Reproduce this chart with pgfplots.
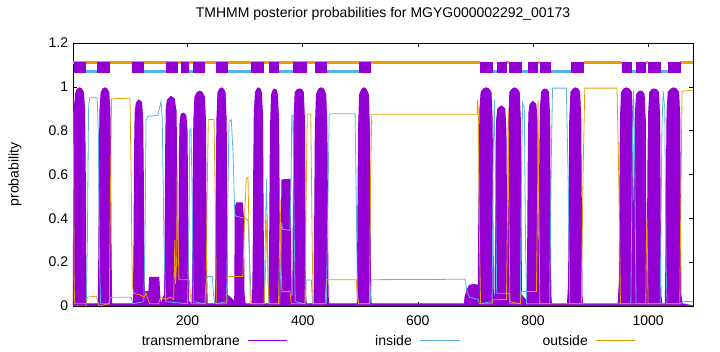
\documentclass[border=0pt]{standalone}
\usepackage{fontspec}
\setmainfont{Liberation Sans}
\usepackage{pgfplots}
\pgfplotsset{compat=1.18}
\definecolor{tm}{HTML}{9400D3}
\definecolor{inc}{HTML}{56B4E9}
\definecolor{outc}{HTML}{E69F00}
\begin{document}
\fontsize{14}{17}\selectfont
\begin{tikzpicture}[x=1pt,y=1pt]
\useasboundingbox (-73,-46) rectangle (647,306);
\begin{axis}[
  at={(0,0)}, anchor=south west,
  scale only axis, width=620pt, height=263pt,
  xmin=1, xmax=1078, ymin=0, ymax=1.2,
  xtick={200,400,600,800,1000},
  ytick={0,0.2,0.4,0.6,0.8,1,1.2},
  /pgf/number format/assume math mode=true,
  /pgf/number format/set thousands separator={},
  tick align=inside, major tick length=4pt,
  tick style={line width=0.6pt,black},
  axis line style={line width=0.8pt},
  ticklabel style={font=\fontsize{14}{17}\selectfont},
  xticklabel style={yshift=-5pt},
  unbounded coords=jump,
  title={TMHMM posterior probabilities for MGYG000002292\_00173},
  title style={at={(0.5,1)}, anchor=center, yshift=23pt, font=\fontsize{14}{17}\selectfont},
  ylabel={probability},
  ylabel style={at={(axis description cs:-0.0935,0.5)}, anchor=center, font=\fontsize{14}{17}\selectfont},
  clip=true,
]
% transmembrane (impulse-like fill)
\addplot[fill=tm, draw=tm, line width=1.1pt, line join=round] coordinates {
(1,0.02)(2,0.3)(3,0.75)(4,0.92)(6,0.975)(9,0.99)(12,0.995)(16,0.99)(19,0.975)(21,0.9)(22,0.7)(23,0.25)(24,0.01)
(45,0.01)(46,0.25)(47,0.7)(48,0.9)(50,0.975)(53,0.99)(56,0.995)(60,0.99)(63,0.975)(65,0.9)(66,0.7)(67,0.25)(68,0.01)
(106,0.01)(107,0.25)(108,0.7)(109,0.88)(111,0.925)(115,0.94)(120,0.93)(122,0.85)(123,0.6)(124,0.2)(125,0.065)(133,0.065)(134,0.13)(150,0.13)(152,0.03)(155,0.01)(158,0.04)
(160,0.05)(161,0.25)(162,0.7)(163,0.9)(165,0.94)(171,0.956)(177,0.945)(179,0.9)(180,0.895)(181,0.6)(182,0.3)(183,0.15)(184,0.15)(185,0.3)
(186,0.7)(187,0.84)(189,0.875)(193,0.88)(197,0.87)(199,0.8)(200,0.5)(201,0.15)(202,0.02)
(208,0.01)(209,0.2)(210,0.6)(211,0.85)(213,0.955)(217,0.975)(221,0.98)(225,0.975)(229,0.955)(231,0.85)(232,0.5)(233,0.15)(234,0.01)
(248,0.01)(249,0.1)(250,0.5)(251,0.85)(253,0.975)(256,0.99)(259,0.995)(262,0.99)(265,0.975)(267,0.85)(268,0.4)(269,0.05)(282,0.02)(283,0.45)(285,0.47)(295,0.47)(297,0.4)(298,0.05)(300,0.01)
(313,0.01)(314,0.2)(315,0.6)(316,0.88)(318,0.975)(321,0.99)(323,0.995)(326,0.99)(328,0.975)(330,0.88)(331,0.5)(332,0.1)(333,0.01)
(342,0.01)(343,0.4)(344,0.8)(346,0.965)(349,0.985)(351,0.99)(354,0.985)(356,0.965)(358,0.85)(359,0.5)(360,0.1)(362,0.02)(363,0.3)(364,0.575)(378,0.578)(379,0.3)(380,0.02)
(383,0.05)(384,0.5)(385,0.85)(387,0.975)(391,0.988)(394,0.99)(398,0.988)(401,0.975)(403,0.85)(404,0.4)(405,0.05)(406,0.01)
(420,0.01)(421,0.4)(422,0.8)(424,0.965)(428,0.99)(432,0.995)(436,0.99)(440,0.965)(442,0.8)(443,0.4)(444,0.05)(445,0.01)
(495,0.01)(496,0.4)(497,0.8)(499,0.965)(503,0.99)(506,0.995)(510,0.99)(514,0.965)(516,0.8)(517,0.4)(518,0.05)(519,0.01)
(681,0.01)(682,0.04)(685,0.07)(690,0.095)(700,0.098)(705,0.09)(706,0.4)
(707,0.7)(708,0.9)(710,0.975)(714,0.99)(719,0.995)(723,0.99)(727,0.975)(729,0.85)(730,0.4)(731,0.05)(734,0.02)(735,0.3)
(736,0.7)(737,0.85)(739,0.9)(745,0.913)(751,0.9)(753,0.8)(754,0.4)(755,0.1)(756,0.1)(757,0.5)
(758,0.85)(760,0.975)(764,0.99)(768,0.995)(772,0.99)(776,0.975)(778,0.85)(779,0.4)(780,0.05)(790,0.02)(791,0.3)
(792,0.7)(793,0.88)(795,0.92)(800,0.933)(805,0.92)(807,0.85)(808,0.5)(809,0.2)(811,0.3)
(812,0.7)(813,0.9)(815,0.975)(818,0.987)(821,0.99)(824,0.987)(827,0.975)(829,0.85)(830,0.4)(831,0.05)(832,0.01)
(860,0.01)(862,0.1)(863,0.5)(864,0.85)(866,0.975)(870,0.99)(874,0.995)(878,0.99)(881,0.975)(883,0.85)(884,0.4)(885,0.05)(886,0.01)
(948,0.01)(950,0.1)(951,0.5)(952,0.85)(954,0.975)(958,0.99)(962,0.995)(967,0.99)(971,0.975)(973,0.85)(974,0.4)(975,0.1)(976,0.3)
(977,0.7)(978,0.88)(980,0.965)(984,0.978)(987,0.98)(990,0.978)(993,0.965)(995,0.85)(996,0.4)(997,0.1)(999,0.3)
(1000,0.7)(1001,0.88)(1003,0.975)(1007,0.988)(1010,0.99)(1014,0.988)(1018,0.975)(1020,0.85)(1021,0.4)(1022,0.05)(1024,0.01)
(1030,0.01)(1031,0.2)(1032,0.6)(1033,0.88)(1035,0.975)(1040,0.99)(1044,0.995)(1049,0.99)(1053,0.975)(1055,0.85)(1056,0.4)(1057,0.05)(1059,0.01)(1078,0.0)
} \closedcycle;
% inside
\addplot[inc, line width=0.8pt] coordinates {
(1,0.0)(24,0.0)(26,0.3)(28,0.9)(30,0.95)(43,0.95)(45,0.8)(47,0.2)(49,0.01)
(63,0.01)(66,0.04)(102,0.04)(105,0.01)
(124,0.02)(126,0.3)(128,0.85)(131,0.865)(148,0.87)(151,0.9)(154,0.935)(156,0.85)(159,0.3)(162,0.02)
(200,0.01)(202,0.3)(204,0.8)(206,0.81)(208,0.5)(210,0.02)
(230,0.01)(232,0.1)(234,0.134)(243,0.134)(245,0.05)(248,0.01)
(268,0.02)(270,0.5)(272,0.84)(276,0.85)(279,0.7)(282,0.42)(284,0.41)(300,0.40)(305,0.39)(308,0.2)(311,0.01)
(333,0.01)(335,0.3)(337,0.58)(339,0.3)(341,0.01)
(360,0.01)(362,0.2)(363,0.38)(365,0.35)(378,0.345)(380,0.6)(381,0.87)(383,0.87)(385,0.4)(387,0.02)
(404,0.01)(406,0.119)(415,0.119)(417,0.01)
(441,0.01)(444,0.5)(446,0.87)(448,0.877)(491,0.877)(493,0.5)(495,0.05)(497,0.01)
(517,0.01)(519,0.12)(682,0.122)(686,0.06)(690,0.04)(705,0.03)(707,0.01)
(729,0.02)(731,0.7)(733,0.94)(735,0.5)(737,0.058)(758,0.058)(760,0.01)
(778,0.01)(780,0.6)(782,0.925)(785,0.9)(787,0.3)(789,0.01)
(829,0.01)(832,0.7)(834,0.994)(858,0.994)(861,0.6)(864,0.01)
(970,0.01)(973,0.8)(975,0.99)(977,0.6)(979,0.01)
(1021,0.01)(1024,0.8)(1026,0.98)(1029,0.9)(1031,0.2)(1033,0.01)
(1056,0.01)(1060,0.02)(1078,0.02)
};
% outside
\addplot[outc, line width=0.8pt] coordinates {
(1,0.95)(2,0.6)(3,0.1)(4,0.01)(24,0.01)(26,0.04)(42,0.045)(44,0.02)(46,0.0)
(64,0.01)(66,0.5)(68,0.945)(100,0.948)(102,0.6)(104,0.1)(106,0.058)(118,0.05)(125,0.04)(128,0.06)(130,0.04)(134,0.01)(150,0.01)(153,0.04)
(162,0.03)(170,0.04)(176,0.03)(177,0.2)(178,0.3)(179,0.1)(181,0.2)(182,0.63)(183,0.4)(185,0.12)(203,0.12)(205,0.05)(207,0.01)
(232,0.01)(234,0.5)(236,0.85)(246,0.852)(248,0.5)(250,0.01)
(268,0.01)(270,0.134)(296,0.135)(299,0.4)(302,0.58)(305,0.588)(307,0.3)(309,0.01)
(333,0.01)(336,0.2)(338,0.41)(340,0.1)(342,0.01)
(358,0.01)(360,0.3)(361,0.484)(362,0.2)(364,0.066)(378,0.066)(380,0.01)
(404,0.01)(406,0.5)(408,0.876)(414,0.876)(416,0.4)(418,0.01)
(439,0.01)(441,0.12)(493,0.12)(495,0.05)(497,0.01)
(516,0.01)(518,0.6)(520,0.875)(703,0.875)(704,0.944)(705,0.9)(707,0.3)(709,0.01)
(729,0.01)(731,0.028)(750,0.03)(754,0.03)(756,0.5)(757,0.895)(758,0.5)(760,0.02)
(778,0.01)(780,0.066)(806,0.066)(808,0.5)(809,0.937)(810,0.5)(812,0.01)
(884,0.01)(887,0.6)(890,0.994)(946,0.994)(949,0.6)(952,0.01)
(996,0.01)(997,0.3)(998,0.4)(999,0.2)(1000,0.01)
(1055,0.01)(1057,0.5)(1059,0.98)(1078,0.985)
};
% topology bar
\addplot[outc, line width=3pt] coordinates {
(1,1.11)(708,1.11)(708,nan)(754,1.11)(758,1.11)(758,nan)(808,1.11)(812,1.11)(812,nan)
(889,1.11)(955,1.11)(955,nan)(996,1.11)(1000,1.11)(1000,nan)(1056,1.11)(1078,1.11)};
\addplot[inc, line width=2.5pt] coordinates {
(23,1.07)(43,1.07)(43,nan)(125,1.07)(162,1.07)(162,nan)(202,1.07)(209,1.07)(209,nan)
(270,1.07)(311,1.07)(311,nan)(358,1.07)(384,1.07)(384,nan)(443,1.07)(497,1.07)(497,nan)
(730,1.07)(737,1.07)(737,nan)(781,1.07)(791,1.07)(791,nan)(831,1.07)(866,1.07)(866,nan)
(972,1.07)(979,1.07)(979,nan)(1023,1.07)(1035,1.07)};
\addplot[fill=tm, draw=none] coordinates {(3,1.064)(23,1.064)(23,1.115)(3,1.115)} -- cycle;
\addplot[fill=tm, draw=none] coordinates {(43,1.064)(66,1.064)(66,1.115)(43,1.115)} -- cycle;
\addplot[fill=tm, draw=none] coordinates {(103,1.064)(125,1.064)(125,1.115)(103,1.115)} -- cycle;
\addplot[fill=tm, draw=none] coordinates {(162,1.064)(183,1.064)(183,1.115)(162,1.115)} -- cycle;
\addplot[fill=tm, draw=none] coordinates {(188,1.064)(202,1.064)(202,1.115)(188,1.115)} -- cycle;
\addplot[fill=tm, draw=none] coordinates {(209,1.064)(231,1.064)(231,1.115)(209,1.115)} -- cycle;
\addplot[fill=tm, draw=none] coordinates {(250,1.064)(270,1.064)(270,1.115)(250,1.115)} -- cycle;
\addplot[fill=tm, draw=none] coordinates {(311,1.064)(332,1.064)(332,1.115)(311,1.115)} -- cycle;
\addplot[fill=tm, draw=none] coordinates {(341,1.064)(358,1.064)(358,1.115)(341,1.115)} -- cycle;
\addplot[fill=tm, draw=none] coordinates {(384,1.064)(407,1.064)(407,1.115)(384,1.115)} -- cycle;
\addplot[fill=tm, draw=none] coordinates {(421,1.064)(443,1.064)(443,1.115)(421,1.115)} -- cycle;
\addplot[fill=tm, draw=none] coordinates {(497,1.064)(518,1.064)(518,1.115)(497,1.115)} -- cycle;
\addplot[fill=tm, draw=none] coordinates {(708,1.064)(730,1.064)(730,1.115)(708,1.115)} -- cycle;
\addplot[fill=tm, draw=none] coordinates {(737,1.064)(755,1.064)(755,1.115)(737,1.115)} -- cycle;
\addplot[fill=tm, draw=none] coordinates {(758,1.064)(781,1.064)(781,1.115)(758,1.115)} -- cycle;
\addplot[fill=tm, draw=none] coordinates {(791,1.064)(809,1.064)(809,1.115)(791,1.115)} -- cycle;
\addplot[fill=tm, draw=none] coordinates {(812,1.064)(831,1.064)(831,1.115)(812,1.115)} -- cycle;
\addplot[fill=tm, draw=none] coordinates {(866,1.064)(889,1.064)(889,1.115)(866,1.115)} -- cycle;
\addplot[fill=tm, draw=none] coordinates {(955,1.064)(972,1.064)(972,1.115)(955,1.115)} -- cycle;
\addplot[fill=tm, draw=none] coordinates {(979,1.064)(997,1.064)(997,1.115)(979,1.115)} -- cycle;
\addplot[fill=tm, draw=none] coordinates {(1000,1.064)(1023,1.064)(1023,1.115)(1000,1.115)} -- cycle;
\addplot[fill=tm, draw=none] coordinates {(1035,1.064)(1057,1.064)(1057,1.115)(1035,1.115)} -- cycle;
\end{axis}
% legend
\node[anchor=east, inner sep=0pt] at (167,-35) {transmembrane};
\draw[draw=tm, line width=1pt] (175,-35) -- (214,-35);
\node[anchor=east, inner sep=0pt] at (339,-35) {inside};
\draw[draw=inc, line width=1pt] (347,-35) -- (387,-35);
\node[anchor=east, inner sep=0pt] at (515,-35) {outside};
\draw[draw=outc, line width=1pt] (523,-35) -- (562,-35);
\end{tikzpicture}
\end{document}
